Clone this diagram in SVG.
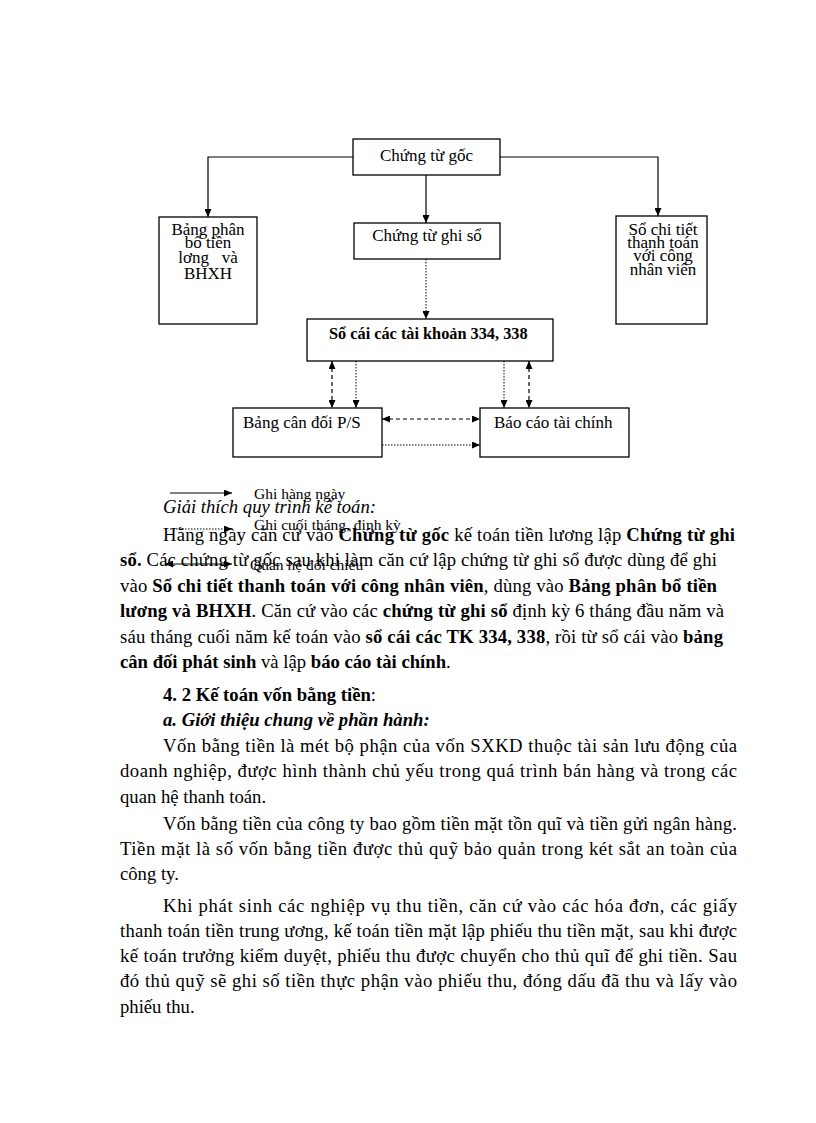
<svg xmlns="http://www.w3.org/2000/svg" width="816" height="1123" viewBox="0 0 816 1123">
<style>
.box{fill:#fff;stroke:#000;stroke-width:1.3}
.bt{font-family:"Liberation Serif","Times New Roman",serif;font-size:17px;fill:#000}
.bb{font-weight:bold}
.solid{fill:none;stroke:#000;stroke-width:1.2}
.dash{fill:none;stroke:#000;stroke-width:1.2;stroke-dasharray:4,3}
.dot{fill:none;stroke:#000;stroke-width:1;stroke-dasharray:1.5,1.5}
.lg{font-family:"Liberation Serif","Times New Roman",serif;font-size:15.5px;fill:#000}
.tx{font-family:"Liberation Serif","Times New Roman",serif;font-size:18.67px;fill:#000;white-space:pre}
.b{font-weight:bold}
.i{font-style:italic}
</style>
<defs>
<marker id="ah" viewBox="0 0 8 7" refX="8" refY="3.5" markerWidth="8" markerHeight="7" markerUnits="userSpaceOnUse" orient="auto-start-reverse">
<path d="M0,0 L8,3.5 L0,7 z" fill="#000"/>
</marker>
</defs>
<rect width="816" height="1123" fill="#fff"/>

<g id="connectors">
<polyline class="solid" points="353,157 208,157 208,217" marker-end="url(#ah)"/>
<polyline class="solid" points="500,157 658,157 658,216" marker-end="url(#ah)"/>
<line class="solid" x1="426" y1="175" x2="426" y2="223" marker-end="url(#ah)"/>
<line class="dot" x1="426" y1="259" x2="426" y2="319" marker-end="url(#ah)"/>
<line class="dash" x1="332" y1="361" x2="332" y2="408" marker-start="url(#ah)" marker-end="url(#ah)"/>
<line class="dot" x1="356" y1="361" x2="356" y2="408" marker-end="url(#ah)"/>
<line class="dot" x1="504" y1="361" x2="504" y2="408" marker-end="url(#ah)"/>
<line class="dash" x1="529" y1="361" x2="529" y2="408" marker-start="url(#ah)" marker-end="url(#ah)"/>
<line class="dash" x1="382" y1="419" x2="480" y2="419" marker-start="url(#ah)" marker-end="url(#ah)"/>
<line class="dot" x1="382" y1="445" x2="480" y2="445" marker-end="url(#ah)"/>
</g>

<g id="n-chung-tu-goc">
<rect class="box" x="353" y="139" width="147" height="36"/>
<text class="bt" x="426.5" y="161" text-anchor="middle">Chứng từ gốc</text>
</g>
<g id="n-bang-phan-bo">
<rect class="box" x="159" y="217" width="98" height="107"/>
<text class="bt" text-anchor="middle" style="white-space:pre"><tspan x="208" y="235">Bảng phân</tspan><tspan x="208" y="248">bổ tiền</tspan><tspan x="208" y="263">lơng   và</tspan><tspan x="208" y="279">BHXH</tspan></text>
</g>
<g id="n-chung-tu-ghi-so">
<rect class="box" x="354" y="223" width="146" height="36"/>
<text class="bt" x="427" y="241" text-anchor="middle">Chứng từ ghi sổ</text>
</g>
<g id="n-so-chi-tiet">
<rect class="box" x="616" y="216" width="91" height="108"/>
<text class="bt" text-anchor="middle"><tspan x="663" y="235">Sổ chi tiết</tspan><tspan x="663" y="248">thanh toán</tspan><tspan x="663" y="261">với công</tspan><tspan x="663" y="275">nhân viên</tspan></text>
</g>
<g id="n-so-cai">
<rect class="box" x="307" y="319" width="246" height="42"/>
<text class="bt bb" x="329" y="339" style="font-size:16.3px">Sổ cái các tài khoản 334, 338</text>
</g>
<g id="n-bang-can-doi">
<rect class="box" x="233" y="408" width="149" height="49"/>
<text class="bt" x="243" y="428">Bảng cân đối P/S</text>
</g>
<g id="n-bao-cao">
<rect class="box" x="480" y="408" width="149" height="49"/>
<text class="bt" x="494" y="428">Báo cáo tài chính</text>
</g>

<g id="legend">
<line class="solid" x1="170" y1="493" x2="232" y2="493" marker-end="url(#ah)"/>
<text class="lg" x="254" y="499">Ghi hàng ngày</text>
<line class="dot" x1="170" y1="529" x2="232" y2="529" marker-end="url(#ah)"/>
<text class="lg" x="254" y="530">Ghi cuối tháng, định kỳ</text>
<line class="solid" x1="165" y1="564" x2="232" y2="564" marker-start="url(#ah)" marker-end="url(#ah)"/>
<text class="lg" x="250" y="570">Quan hệ đối chiếu</text>
</g>

<g id="body-text">
<text class="tx i" x="163" y="513">Giải thích quy trình kế toán:</text>
<text class="tx" x="163" y="541" textLength="572" lengthAdjust="spacing">Hằng ngày căn cứ vào <tspan class="b">Chứng từ gốc</tspan> kế toán tiền lương lập <tspan class="b">Chứng từ ghi</tspan></text>
<text class="tx" x="120" y="566" textLength="597" lengthAdjust="spacing"><tspan class="b">sổ.</tspan> Các chứng từ gốc sau khi làm căn cứ lập chứng từ ghi sổ được dùng để ghi</text>
<text class="tx" x="120" y="592" textLength="597" lengthAdjust="spacing">vào <tspan class="b">Sổ chi tiết thanh toán với công nhân viên</tspan>, dùng vào <tspan class="b">Bảng phân bổ tiền</tspan></text>
<text class="tx" x="120" y="617" textLength="604" lengthAdjust="spacing"><tspan class="b">lương và BHXH</tspan>. Căn cứ vào các <tspan class="b">chứng từ ghi sổ</tspan> định kỳ 6 tháng đầu năm và</text>
<text class="tx" x="120" y="643" textLength="603" lengthAdjust="spacing">sáu tháng cuối năm kế toán vào <tspan class="b">sổ cái các TK 334, 338</tspan>, rồi từ sổ cái vào <tspan class="b">bảng</tspan></text>
<text class="tx" x="120" y="668"><tspan class="b">cân đối phát sinh</tspan> và lập <tspan class="b">báo cáo tài chính</tspan>.</text>
<text class="tx" x="163" y="701"><tspan class="b">4. 2 Kế toán vốn bằng tiền</tspan>:</text>
<text class="tx b i" x="163" y="726">a. Giới thiệu chung về phần hành:</text>
<text class="tx" x="163" y="752" textLength="574" lengthAdjust="spacing">Vốn bằng tiền là mét bộ phận của vốn SXKD thuộc tài sản lưu động của</text>
<text class="tx" x="120" y="777" textLength="617" lengthAdjust="spacing">doanh nghiệp, được hình thành chủ yếu trong quá trình bán hàng và trong các</text>
<text class="tx" x="120" y="803">quan hệ thanh toán.</text>
<text class="tx" x="163" y="830" textLength="574" lengthAdjust="spacing">Vốn bằng tiền của công ty bao gồm tiền mặt tồn quĩ và tiền gửi ngân hàng.</text>
<text class="tx" x="120" y="855" textLength="617" lengthAdjust="spacing">Tiền mặt là số vốn bằng tiền được thủ quỹ bảo quản trong két sắt an toàn của</text>
<text class="tx" x="120" y="880">công ty.</text>
<text class="tx" x="163" y="912" textLength="574" lengthAdjust="spacing">Khi phát sinh các nghiệp vụ thu tiền, căn cứ vào các hóa đơn, các giấy</text>
<text class="tx" x="120" y="937" textLength="617" lengthAdjust="spacing">thanh toán tiền trung ương, kế toán tiền mặt lập phiếu thu tiền mặt, sau khi được</text>
<text class="tx" x="120" y="962" textLength="617" lengthAdjust="spacing">kế toán trưởng kiểm duyệt, phiếu thu được chuyển cho thủ quĩ để ghi tiền. Sau</text>
<text class="tx" x="120" y="987" textLength="617" lengthAdjust="spacing">đó thủ quỹ sẽ ghi số tiền thực phận vào phiếu thu, đóng dấu đã thu và lấy vào</text>
<text class="tx" x="120" y="1013">phiếu thu.</text>
</g>
</svg>
